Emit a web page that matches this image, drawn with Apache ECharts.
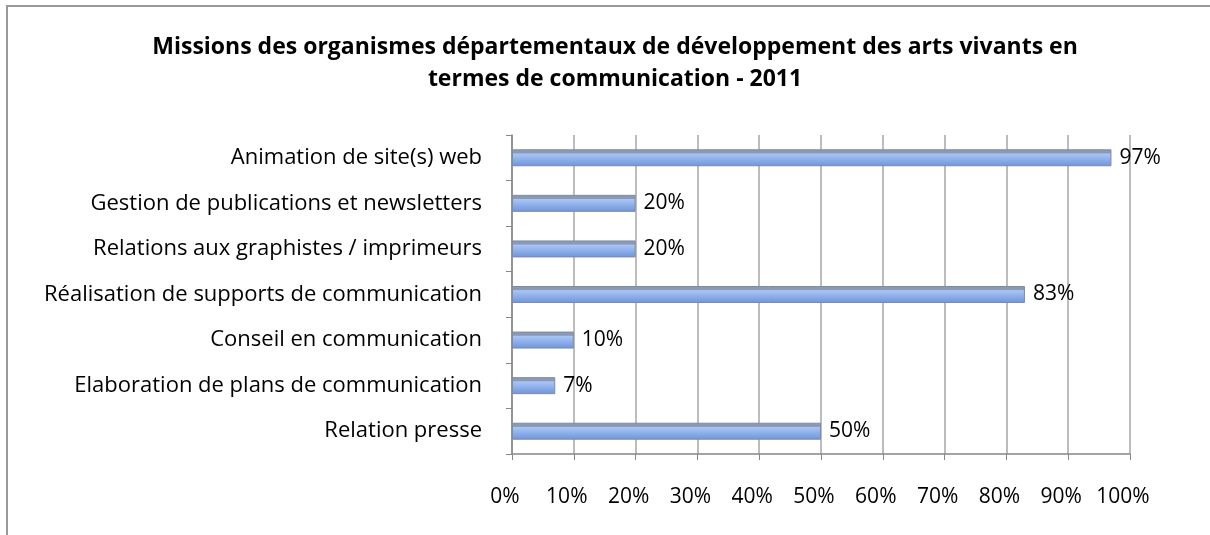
<!DOCTYPE html>
<html>
<head>
<meta charset="utf-8">
<script src="https://cdn.jsdelivr.net/npm/echarts@6/dist/echarts.min.js"></script>
<style>
  html, body { margin: 0; padding: 0; background: #fff; }
  #main { width: 1210px; height: 535px; }
</style>
</head>
<body>
<div id="main"></div>
<script>
// données
var categories = [
    'Relation presse',
    'Elaboration de plans de communication',
    'Conseil en communication',
    'Réalisation de supports de communication',
    'Relations aux graphistes / imprimeurs',
    'Gestion de publications et newsletters',
    'Animation de site(s) web'
];
var values = [50, 7, 10, 83, 20, 20, 97];
var xTicks = [0, 10, 20, 30, 40, 50, 60, 70, 80, 90, 100];

var chart = echarts.init(document.getElementById('main'), null, { renderer: 'canvas' });

var option = {
    backgroundColor: '#fff',
    animation: false,
    title: {
        text: 'Missions des organismes départementaux de développement des arts vivants en\ntermes de communication - 2011',
        left: 610,
        top: 26,
        textAlign: 'center',
        textStyle: {
            fontFamily: 'Open Sans',
            fontSize: 23,
            fontWeight: 'bold',
            color: '#000',
            lineHeight: 32
        }
    },
    graphic: [
        { type: 'line', shape: { x1: 7, y1: 5, x2: 7, y2: 540 }, style: { stroke: '#999', lineWidth: 2 } },
        { type: 'line', shape: { x1: 6, y1: 6, x2: 1220, y2: 6 }, style: { stroke: '#999', lineWidth: 2 } }
    ],
    grid: {
        left: 512,
        right: 80,
        top: 135,
        bottom: 81
    },
    xAxis: {
        type: 'value',
        min: 0,
        max: 100,
        interval: 10,
        axisLine: { show: true, lineStyle: { color: '#888', width: 1.5 } },
        axisTick: { show: true, length: 6, lineStyle: { color: '#888' } },
        axisLabel: {
            formatter: function (v) { return xTicks.indexOf(v) >= 0 ? v + '%' : ''; },
            margin: 33,
            padding: [0, 14, 0, 0],
            fontFamily: 'Open Sans',
            fontSize: 21,
            color: '#000'
        },
        splitLine: { show: true, lineStyle: { color: '#bdbdbd', width: 2 } }
    },
    yAxis: {
        type: 'category',
        data: categories,
        axisLine: { show: true, lineStyle: { color: '#888', width: 1.5 } },
        axisTick: { show: true, length: 6, lineStyle: { color: '#888' } },
        axisLabel: {
            margin: 30,
            fontFamily: 'Open Sans',
            fontSize: 22,
            color: '#000'
        }
    },
    series: [{
        type: 'bar',
        data: values,
        barWidth: 17,
        itemStyle: {
            color: new echarts.graphic.LinearGradient(0, 0, 0, 1, [
                { offset: 0, color: '#8a9ab6' },
                { offset: 0.22, color: '#8a9ab6' },
                { offset: 0.27, color: '#a9c5f5' },
                { offset: 1, color: '#6d94dc' }
            ]),
            borderColor: '#7f8ba3',
            borderWidth: 1
        },
        label: {
            show: true,
            position: 'right',
            distance: 8,
            formatter: '{c}%',
            fontFamily: 'Open Sans',
            fontSize: 21,
            color: '#000'
        }
    }]
};

chart.setOption(option);
</script>
</body>
</html>
